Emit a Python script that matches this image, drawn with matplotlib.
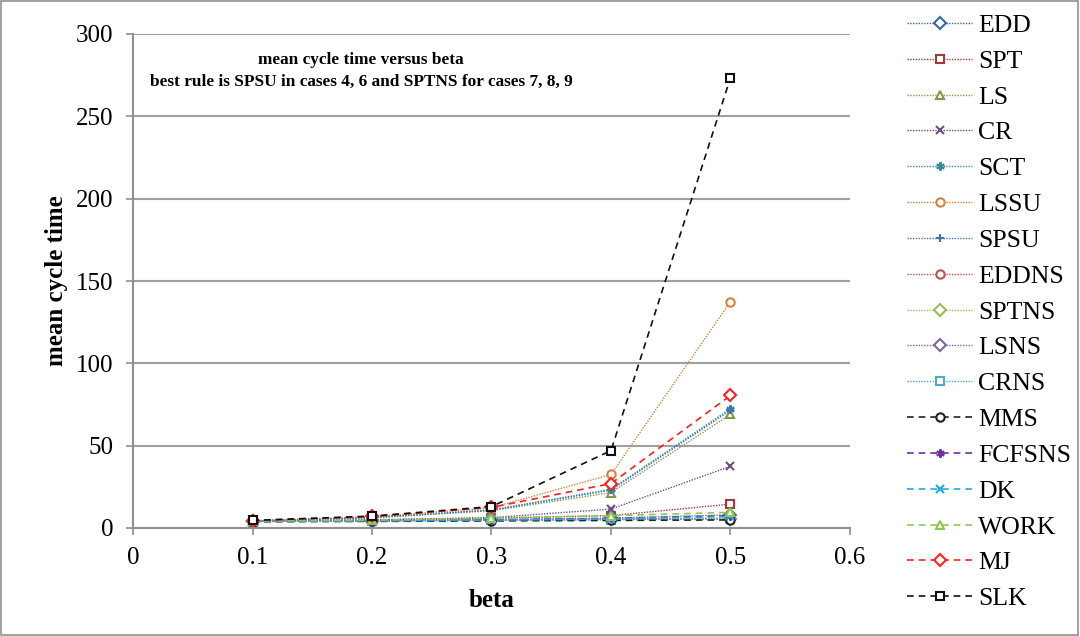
import matplotlib
matplotlib.use("Agg")
import matplotlib.pyplot as plt
from matplotlib.patches import Rectangle

plt.rcParams['font.family'] = ['Liberation Serif', 'DejaVu Serif']

beta = [0.1, 0.2, 0.3, 0.4, 0.5]

EDD = [4.0, 4.3, 4.7, 5.2, 5.5]
SPT = [4.2, 4.8, 6.0, 7.5, 14.5]
LS = [4.3, 6.2, 10.5, 21.5, 69.0]
CR = [4.0, 5.0, 6.3, 11.5, 37.5]
SCT = [4.3, 6.4, 11.0, 23.5, 72.5]
LSSU = [4.4, 6.8, 12.3, 32.5, 137.5]
SPSU = [4.3, 6.3, 10.8, 23.0, 71.5]
EDDNS = [4.2, 4.5, 5.0, 5.5, 6.0]
SPTNS = [4.0, 4.4, 4.8, 5.3, 5.5]
LSNS = [4.1, 4.5, 5.0, 6.0, 8.0]
CRNS = [3.9, 4.2, 4.6, 5.0, 5.5]
MMS = [3.8, 4.0, 4.3, 4.6, 4.9]
FCFSNS = [4.0, 4.4, 5.0, 5.8, 7.5]
DK = [4.0, 4.3, 4.8, 5.5, 7.0]
WORK = [4.3, 4.8, 6.0, 7.5, 9.5]
MJ = [4.5, 7.0, 12.5, 27.0, 80.5]
SLK = [4.6, 7.2, 13.0, 47.0, 273.5]

series = [
    ("EDD", EDD, "#3A64A0", ":", "D", True),
    ("SPT", SPT, "#A23B38", ":", "s", True),
    ("LS", LS, "#7F9A48", ":", "^", True),
    ("CR", CR, "#6A4F8C", ":", "x", False),
    ("SCT", SCT, "#3A8AA0", ":", (6, 2, 0), False),
    ("LSSU", LSSU, "#D9813C", ":", "o", True),
    ("SPSU", SPSU, "#4472B0", ":", "+", False),
    ("EDDNS", EDDNS, "#C0504D", ":", "o", True),
    ("SPTNS", SPTNS, "#9BBB59", ":", "D", True),
    ("LSNS", LSNS, "#8064A2", ":", "D", True),
    ("CRNS", CRNS, "#4BACC6", ":", "s", True),
    ("MMS", MMS, "#222222", "--", "o", True),
    ("FCFSNS", FCFSNS, "#7030A0", "--", (6, 2, 0), False),
    ("DK", DK, "#22A8E0", "--", "x", False),
    ("WORK", WORK, "#8CC850", "--", "^", True),
    ("MJ", MJ, "#FF2020", "--", "D", True),
    ("SLK", SLK, "#111111", "--", "s", True),
]

fig = plt.figure(figsize=(10.8, 6.36), dpi=100)
ax = fig.add_axes([133/1080, 1-528/636, (850-133)/1080, (528-34)/636])

for name, vals, col, ls, mk, hollow in series:
    dash = (0, (1, 1)) if ls == ":" else (0, (4, 3))
    lw = 1.0 if ls == ":" else 1.2
    ax.plot(beta, vals, color=col, linestyle=dash, linewidth=lw,
            marker=mk, markersize=6,
            markerfacecolor='white' if hollow else col,
            markeredgecolor=col, markeredgewidth=1.5, label=name)

ax.set_xlim(0, 0.6)
ax.set_ylim(0, 300)
ax.set_xticks([0, 0.1, 0.2, 0.3, 0.4, 0.5, 0.6])
ax.set_xticklabels(["0", "0.1", "0.2", "0.3", "0.4", "0.5", "0.6"])
ax.set_yticks([0, 50, 100, 150, 200, 250, 300])
ax.yaxis.grid(True, color="#A0A0A0", linewidth=1.5)
ax.set_axisbelow(True)
for s in ["top", "right"]:
    ax.spines[s].set_visible(False)
for s in ["left", "bottom"]:
    ax.spines[s].set_color("#909090")
    ax.spines[s].set_linewidth(1.5)
ax.tick_params(axis='both', colors="#909090", labelcolor="black", labelsize=18,
               length=5, width=1.2, direction='out')
ax.tick_params(axis='y', pad=9)
ax.tick_params(axis='x', pad=9)
ax.set_xlabel("beta", fontsize=18, fontweight='bold', labelpad=14)
ax.set_ylabel("mean cycle time", fontsize=18, fontweight='bold', labelpad=6)

ax.text((361-133)/(850-133), 1-(71-34)/494, "mean cycle time versus beta\nbest rule is SPSU in cases 4, 6 and SPTNS for cases 7, 8, 9",
        transform=ax.transAxes, ha='center', va='center', fontsize=12.4,
        fontweight='bold', linespacing=1.45)

fig.legend(loc='upper left', bbox_to_anchor=(907/1080, 1-14/636), frameon=False,
           fontsize=18.5, handlelength=2.53, labelspacing=0.5, handletextpad=0.23,
           borderaxespad=0, borderpad=0)

fig.patches.append(Rectangle((0.001, 0.001), 0.997, 0.997, transform=fig.transFigure,
                             fill=False, edgecolor="#909090", linewidth=1.2))

fig.savefig("out.png", dpi=100)
